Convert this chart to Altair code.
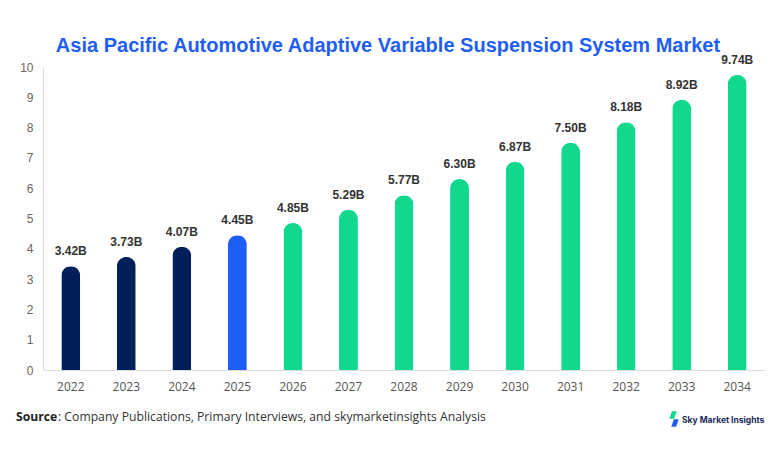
import altair as alt
import pandas as pd

years = ["2022", "2023", "2024", "2025", "2026", "2027", "2028", "2029", "2030", "2031", "2032", "2033", "2034"]
values = [3.42, 3.73, 4.07, 4.45, 4.85, 5.29, 5.77, 6.30, 6.87, 7.50, 8.18, 8.92, 9.74]
labels = ["3.42B", "3.73B", "4.07B", "4.45B", "4.85B", "5.29B", "5.77B", "6.30B", "6.87B", "7.50B", "8.18B", "8.92B", "9.74B"]
kinds = ["hist", "hist", "hist", "base", "fcst", "fcst", "fcst", "fcst", "fcst", "fcst", "fcst", "fcst", "fcst"]

df = pd.DataFrame({"year": years, "value": values, "label": labels, "kind": kinds})

x = alt.X("year:O", title=None, sort=years,
          scale=alt.Scale(paddingInner=0.66, paddingOuter=0.33),
          axis=alt.Axis(labelAngle=0, labelFont="Open Sans", labelFontSize=12, labelColor="#555",
                        ticks=False, domainColor="#ddd", labelPadding=11))
y = alt.Y("value:Q", title=None, scale=alt.Scale(domain=[0, 10]),
          axis=alt.Axis(values=list(range(11)), grid=False, ticks=False, labelFont="Liberation Sans",
                        labelFontSize=12, labelColor="#666", domainColor="#ddd", labelPadding=10))

bars = alt.Chart(df).mark_bar(cornerRadiusTopLeft=10, cornerRadiusTopRight=10).encode(
    x=x, y=y,
    color=alt.Color("kind:N", scale=alt.Scale(domain=["hist", "base", "fcst"],
                                              range=["#001f5b", "#1f5ef5", "#10d98e"]), legend=None),
)

text = alt.Chart(df).mark_text(dy=-15, font="Liberation Sans", fontSize=12, fontWeight="bold",
                               color="#333").encode(x=x, y=y, text="label:N")

ann = pd.DataFrame({"t": ["Asia Pacific Automotive Adaptive Variable Suspension System Market"]})
title = alt.Chart(ann).mark_text(font="Liberation Sans", fontSize=20, fontWeight="bold",
                                 color="#1f5ef5", align="center", baseline="alphabetic").encode(
    x=alt.value(345), y=alt.value(-15), text="t:N")

src1 = alt.Chart(pd.DataFrame({"t": ["Source"]})).mark_text(
    font="Open Sans", fontSize=12.2, fontWeight="bold", color="#222", align="left").encode(
    x=alt.value(-27), y=alt.value(350), text="t:N")
src2 = alt.Chart(pd.DataFrame({"t": [": Company Publications, Primary Interviews, and skymarketinsights Analysis"]})).mark_text(
    font="Open Sans", fontSize=12.2, color="#333", align="left").encode(
    x=alt.value(15), y=alt.value(350), text="t:N")

logo_txt = alt.Chart(pd.DataFrame({"t": ["Sky Market Insights"]})).mark_text(
    font="Inter", fontSize=8.5, fontWeight="bold", color="#1a2a5a", align="left").encode(
    x=alt.value(639), y=alt.value(353), text="t:N")

icon_shape = "M-0.3,-1L1,-1L0.3,1L-1,1Z"
icon_g = alt.Chart(pd.DataFrame({"a": [0]})).mark_point(shape=icon_shape, filled=True, opacity=1,
                                                       color="#10d98e", size=55).encode(
    x=alt.value(630), y=alt.value(348))
icon_b = alt.Chart(pd.DataFrame({"a": [0]})).mark_point(shape=icon_shape, filled=True, opacity=1,
                                                       color="#1f5ef5", size=55).encode(
    x=alt.value(632), y=alt.value(356))

chart = alt.layer(bars, text, title, src1, src2, icon_g, icon_b, logo_txt).properties(
    width=722, height=303,
    autosize=alt.AutoSizeParams(type="none"),
    padding={"left": 35, "top": 59, "right": 9, "bottom": 76},
    background="white",
).configure_view(stroke=None)

chart.save("out.html", embed_options={"renderer": "svg", "actions": False})
